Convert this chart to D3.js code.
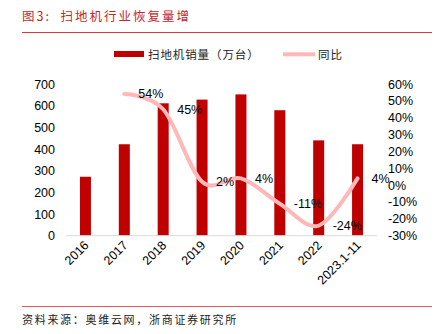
<!DOCTYPE html>
<html><head><meta charset="utf-8">
<script src="https://cdn.jsdelivr.net/npm/d3@7/dist/d3.min.js"></script>
<style>
html,body{margin:0;padding:0;background:#fff;}
svg{display:block;}
</style></head>
<body><svg id="c" width="434" height="334"></svg>
<script>
const categories = ["2016","2017","2018","2019","2020","2021","2022","2023.1-11"];
const sales = [272, 422, 611, 628, 652, 579, 440, 422];
const yoy = [null, 0.54, 0.45, 0.02, 0.04, -0.11, -0.24, 0.04];
const yoyLabels = [null, "54%", "45%", "2%", "4%", "-11%", "-24%", "4%"];
const leftTicks = [0,100,200,300,400,500,600,700];
const rightTicks = [-0.3,-0.2,-0.1,0,0.1,0.2,0.3,0.4,0.5,0.6];
const title = "图3:  扫地机行业恢复量增";
const source = "资料来源：奥维云网，浙商证券研究所";
const legendBar = "扫地机销量（万台）";
const legendLine = "同比";

const svg = d3.select("#c");
const red = "#c00000";
const pink = "#ffb7b7";
const cjk = "'Noto Sans CJK SC','Noto Sans',sans-serif";
const latin = "'Liberation Sans',Arial,sans-serif";

// title & rules
svg.append("text").attr("x",22).attr("y",21).attr("fill","#c0282d")
  .attr("font-family",cjk).attr("font-size",12.5).attr("letter-spacing","2px")
  .attr("xml:space","preserve").style("white-space","pre").text(title);
svg.append("line").attr("x1",22).attr("x2",432).attr("y1",32.5).attr("y2",32.5)
  .attr("stroke","#d9383d").attr("stroke-width",1);
svg.append("line").attr("x1",22).attr("x2",432).attr("y1",306.5).attr("y2",306.5)
  .attr("stroke","#e05a5a").attr("stroke-width",1);
svg.append("text").attr("x",22).attr("y",324).attr("fill","#222")
  .attr("font-family",cjk).attr("font-size",11).attr("letter-spacing","1.7px").text(source);

// legend
svg.append("rect").attr("x",114).attr("y",51).attr("width",30).attr("height",6).attr("fill",red);
svg.append("text").attr("x",148).attr("y",58.5).attr("font-family",cjk).attr("font-size",11.5)
  .attr("letter-spacing","0.9px").attr("fill","#222").text(legendBar);
svg.append("line").attr("x1",283).attr("x2",315).attr("y1",54.3).attr("y2",54.3)
  .attr("stroke",pink).attr("stroke-width",4);
svg.append("text").attr("x",318).attr("y",58.5).attr("font-family",cjk).attr("font-size",11.5)
  .attr("letter-spacing","0.9px").attr("fill","#222").text(legendLine);

// scales
const x = d3.scaleBand().domain(categories).range([66,377]);
const yL = d3.scaleLinear().domain([0,700]).range([235.7,84]);
const yR = d3.scaleLinear().domain([-0.3,0.6]).range([235.7,84]);
const barW = 11;

// bars
svg.append("g").selectAll("rect").data(sales).join("rect")
  .attr("x",(d,i)=>x(categories[i])+x.bandwidth()/2-barW/2)
  .attr("width",barW)
  .attr("y",d=>yL(d)).attr("height",d=>yL(0)-yL(d))
  .attr("fill",red);

// baseline
svg.append("line").attr("x1",66).attr("x2",377).attr("y1",yL(0)).attr("y2",yL(0))
  .attr("stroke","#d9d9d9").attr("stroke-width",1);

// left axis
const gL = svg.append("g").attr("transform","translate(58,0)")
  .call(d3.axisLeft(yL).tickValues(leftTicks).tickSize(0).tickPadding(3).tickFormat(d3.format("d")));
gL.select(".domain").remove();
gL.selectAll("text").attr("font-family",latin).attr("font-size",12.5).attr("fill","#000");

// right axis
const gR = svg.append("g").attr("transform","translate(386,0)")
  .call(d3.axisRight(yR).tickValues(rightTicks).tickSize(0).tickPadding(2).tickFormat(d=>Math.round(d*100)+"%"));
gR.select(".domain").remove();
gR.selectAll("text").attr("font-family",latin).attr("font-size",12.5).attr("fill","#000");

// x labels
svg.append("g").selectAll("text").data(categories).join("text")
  .attr("transform",d=>`translate(${x(d)+x.bandwidth()/2+1},${243}) rotate(-45)`)
  .attr("text-anchor","end").attr("dy","0.35em")
  .attr("font-family",latin).attr("font-size",12.5).attr("fill","#000").text(d=>d);

// line
const pts = yoy.map((v,i)=>v===null?null:[x(categories[i])+x.bandwidth()/2, yR(v)]).filter(p=>p);
svg.append("path").attr("d",d3.line().curve(d3.curveCardinal.tension(0))(pts))
  .attr("fill","none").attr("stroke",pink).attr("stroke-width",4).attr("stroke-linecap","round");

// labels
svg.append("g").selectAll("text").data(yoy.map((v,i)=>({v,i})).filter(d=>d.v!==null)).join("text")
  .attr("x",d=>x(categories[d.i])+x.bandwidth()/2+14)
  .attr("y",d=>yR(d.v)).attr("dy","0.35em")
  .attr("font-family",latin).attr("font-size",12.5).attr("fill","#000")
  .text(d=>yoyLabels[d.i]);
</script></body></html>
